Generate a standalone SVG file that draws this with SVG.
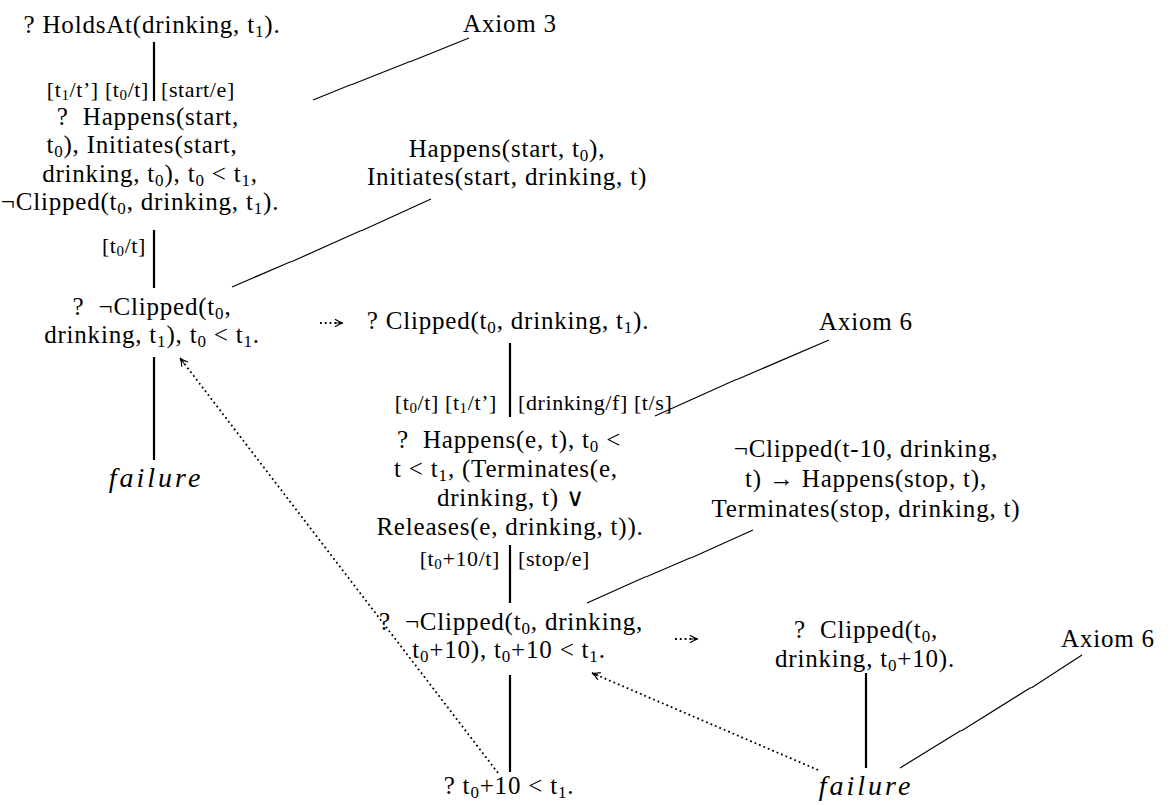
<svg xmlns="http://www.w3.org/2000/svg" width="1173" height="805" viewBox="0 0 1173 805">
  <style>
    text { font-family: "Liberation Serif", "Times New Roman", Tinos, "DejaVu Serif", serif; fill: #000; }
    .t { font-size: 25px; letter-spacing: 0.8px; text-anchor: middle; }
    .t .s { font-size: 17px; }
    .lbl { font-size: 22px; letter-spacing: 0.6px; }
    .lbl .s { font-size: 15px; }
    .end { text-anchor: end; }
    .start { text-anchor: start; }
    .fail { font-size: 28px; font-style: italic; letter-spacing: 3px; text-anchor: middle; }
    .edge { stroke: #000; stroke-width: 2.2; fill: none; }
    .axl { stroke: #000; stroke-width: 1.2; fill: none; }
    .dot { stroke: #000; stroke-width: 1.8; fill: none; stroke-dasharray: 1.8 3; marker-end: url(#head); }
  </style>
  <defs>
    <marker id="head" markerUnits="userSpaceOnUse" markerWidth="14" markerHeight="12" refX="0" refY="0" viewBox="-10 -6 12 12" orient="auto">
      <path d="M-8,-3.8 Q-3,-0.6 0,0 Q-3,0.6 -8,3.8 M-7,0 L0,0" fill="none" stroke="#000" stroke-width="1.2"/>
    </marker>
  </defs>

  <!-- derivation edges, axiom links and dotted back-links -->
  <g id="connectors">
    <line class="edge" x1="154" y1="42" x2="154" y2="101"/>
    <line class="edge" x1="154" y1="230" x2="154" y2="288"/>
    <line class="edge" x1="154" y1="357" x2="154" y2="460"/>
    <line class="edge" x1="510" y1="343" x2="510" y2="417"/>
    <line class="edge" x1="510" y1="545" x2="510" y2="603"/>
    <line class="edge" x1="510" y1="675" x2="510" y2="772"/>
    <line class="edge" x1="866" y1="673" x2="866" y2="768"/>

    <polyline class="axl" points="313,100 350,85 352,84.5 410,61.5 412,61 469,38"/>
    <polyline class="axl" points="232,287 290,262 292,261.5 360,231 362,230.5 431,199"/>
    <polyline class="axl" points="655,416 735,380 737,379.5 829,340"/>
    <polyline class="axl" points="587,603 645,577 647,576.5 690,558 692,557.5 753,530"/>
    <polyline class="axl" points="900,768 960,731 962,730.5 1030,688 1032,687.5 1082,655"/>

    <line class="dot" x1="320" y1="323" x2="343" y2="323"/>
    <line class="dot" x1="675" y1="639" x2="698" y2="639"/>
    <line class="dot" x1="498" y1="773" x2="180" y2="358"/>
    <line class="dot" x1="818" y1="770" x2="592" y2="673"/>
  </g>

  <!-- edge substitutions -->
  <g id="labels">
    <text class="lbl end" x="149" y="97">[t<tspan class="s" dy="3">1</tspan><tspan dy="-3">/t’] [t</tspan><tspan class="s" dy="3">0</tspan><tspan dy="-3">/t]</tspan></text>
    <text class="lbl start" x="161" y="97">[start/e]</text>
    <text class="lbl end" x="146" y="253">[t<tspan class="s" dy="3">0</tspan><tspan dy="-3">/t]</tspan></text>
    <text class="lbl end" x="497" y="410">[t<tspan class="s" dy="3">0</tspan><tspan dy="-3">/t] [t</tspan><tspan class="s" dy="3">1</tspan><tspan dy="-3">/t’]</tspan></text>
    <text class="lbl start" x="518" y="410">[drinking/f] [t/s]</text>
    <text class="lbl end" x="500" y="566">[t<tspan class="s" dy="3">0</tspan><tspan dy="-3">+10/t]</tspan></text>
    <text class="lbl start" x="518" y="566">[stop/e]</text>
  </g>

  <g id="goal-holdsat">
    <text class="t" x="152" y="33">? HoldsAt(drinking, t<tspan class="s" dy="4">1</tspan><tspan dy="-4">).</tspan></text>
  </g>

  <g id="goal-happens-start">
    <text class="t" x="148" y="125">?&#160; Happens(start,</text>
    <text class="t" x="142" y="153">t<tspan class="s" dy="4">0</tspan><tspan dy="-4">), Initiates(start,</tspan></text>
    <text class="t" x="150" y="182">drinking, t<tspan class="s" dy="4">0</tspan><tspan dy="-4">), t</tspan><tspan class="s" dy="4">0</tspan><tspan dy="-4"> &lt; t</tspan><tspan class="s" dy="4">1</tspan><tspan dy="-4">,</tspan></text>
    <text class="t" x="140" y="210">¬Clipped(t<tspan class="s" dy="4">0</tspan><tspan dy="-4">, drinking, t</tspan><tspan class="s" dy="4">1</tspan><tspan dy="-4">).</tspan></text>
  </g>

  <g id="goal-notclipped">
    <text class="t" x="152" y="315">?&#160; ¬Clipped(t<tspan class="s" dy="4">0</tspan><tspan dy="-4">,</tspan></text>
    <text class="t" x="152" y="343">drinking, t<tspan class="s" dy="4">1</tspan><tspan dy="-4">), t</tspan><tspan class="s" dy="4">0</tspan><tspan dy="-4"> &lt; t</tspan><tspan class="s" dy="4">1</tspan><tspan dy="-4">.</tspan></text>
  </g>

  <g id="failure-1">
    <text class="fail" x="156" y="487">failure</text>
  </g>

  <g id="axiom-3">
    <text class="t" x="510" y="32">Axiom 3</text>
  </g>

  <g id="axiom-happens-start">
    <text class="t" x="507" y="157">Happens(start, t<tspan class="s" dy="4">0</tspan><tspan dy="-4">),</tspan></text>
    <text class="t" x="507" y="185">Initiates(start, drinking, t)</text>
  </g>

  <g id="goal-clipped">
    <text class="t" x="508" y="329">? Clipped(t<tspan class="s" dy="4">0</tspan><tspan dy="-4">, drinking, t</tspan><tspan class="s" dy="4">1</tspan><tspan dy="-4">).</tspan></text>
  </g>

  <g id="axiom-6-upper">
    <text class="t" x="866" y="330">Axiom 6</text>
  </g>

  <g id="goal-happens-e">
    <text class="t" x="509" y="448">?&#160; Happens(e, t), t<tspan class="s" dy="4">0</tspan><tspan dy="-4"> &lt;</tspan></text>
    <text class="t" x="506" y="477">t &lt; t<tspan class="s" dy="4">1</tspan><tspan dy="-4">, (Terminates(e,</tspan></text>
    <text class="t" x="511" y="506">drinking, t) ∨</text>
    <text class="t" x="510" y="535">Releases(e, drinking, t)).</text>
  </g>

  <g id="axiom-stop">
    <text class="t" x="866" y="457">¬Clipped(t-10, drinking,</text>
    <text class="t" x="866" y="487">t) → Happens(stop, t),</text>
    <text class="t" x="866" y="517">Terminates(stop, drinking, t)</text>
  </g>

  <g id="goal-notclipped-10">
    <text class="t" x="511" y="630">?&#160; ¬Clipped(t<tspan class="s" dy="4">0</tspan><tspan dy="-4">, drinking,</tspan></text>
    <text class="t" x="509" y="658">t<tspan class="s" dy="4">0</tspan><tspan dy="-4">+10), t</tspan><tspan class="s" dy="4">0</tspan><tspan dy="-4">+10 &lt; t</tspan><tspan class="s" dy="4">1</tspan><tspan dy="-4">.</tspan></text>
  </g>

  <g id="goal-clipped-10">
    <text class="t" x="866" y="638">?&#160; Clipped(t<tspan class="s" dy="4">0</tspan><tspan dy="-4">,</tspan></text>
    <text class="t" x="865" y="667">drinking, t<tspan class="s" dy="4">0</tspan><tspan dy="-4">+10).</tspan></text>
  </g>

  <g id="axiom-6-lower">
    <text class="t" x="1108" y="647">Axiom 6</text>
  </g>

  <g id="goal-before">
    <text class="t" x="509" y="794">? t<tspan class="s" dy="4">0</tspan><tspan dy="-4">+10 &lt; t</tspan><tspan class="s" dy="4">1</tspan><tspan dy="-4">.</tspan></text>
  </g>

  <g id="failure-2">
    <text class="fail" x="866" y="795">failure</text>
  </g>
</svg>
